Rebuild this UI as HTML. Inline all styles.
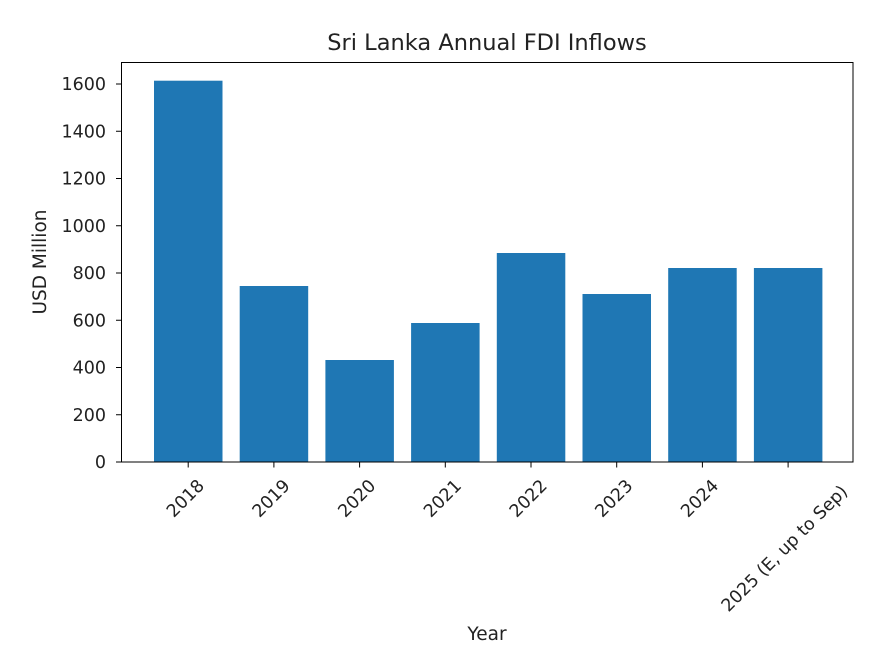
<!DOCTYPE html>
<html><head><meta charset="utf-8"><style>body{margin:0;background:#fff}</style></head><body>
<svg width="886" height="654" xmlns="http://www.w3.org/2000/svg" font-family="DejaVu Sans, Liberation Sans, sans-serif">
<rect width="886" height="654" fill="#fff"/>
<g fill="#1f77b4">
<rect x="154" y="80.7" width="68.5" height="381.3"/>
<rect x="239.7" y="286" width="68.5" height="176"/>
<rect x="325.4" y="360" width="68.5" height="102"/>
<rect x="411.1" y="323" width="68.5" height="139"/>
<rect x="496.8" y="253" width="68.5" height="209"/>
<rect x="582.5" y="294" width="68.5" height="168"/>
<rect x="668.2" y="268" width="68.5" height="194"/>
<rect x="753.9" y="268" width="68.5" height="194"/>
</g>
<rect x="121.5" y="62.5" width="731.5" height="399.5" fill="none" stroke="#000" stroke-width="1"/>
<g stroke="#000">
<line x1="116" x2="121.5" y1="462" y2="462"/>
<line x1="116" x2="121.5" y1="414.75" y2="414.75"/>
<line x1="116" x2="121.5" y1="367.5" y2="367.5"/>
<line x1="116" x2="121.5" y1="320.25" y2="320.25"/>
<line x1="116" x2="121.5" y1="273" y2="273"/>
<line x1="116" x2="121.5" y1="225.75" y2="225.75"/>
<line x1="116" x2="121.5" y1="178.5" y2="178.5"/>
<line x1="116" x2="121.5" y1="131.25" y2="131.25"/>
<line x1="116" x2="121.5" y1="84" y2="84"/>
</g>
<g font-size="17.5" text-anchor="end" fill="#222">
<text x="106" y="468">0</text>
<text x="106" y="420.75">200</text>
<text x="106" y="373.5">400</text>
<text x="106" y="326.25">600</text>
<text x="106" y="279">800</text>
<text x="106" y="231.75">1000</text>
<text x="106" y="184.5">1200</text>
<text x="106" y="137.25">1400</text>
<text x="106" y="90">1600</text>
</g>
<g stroke="#000">
<line x1="188.2" x2="188.2" y1="462" y2="467.5"/>
<line x1="273.9" x2="273.9" y1="462" y2="467.5"/>
<line x1="359.6" x2="359.6" y1="462" y2="467.5"/>
<line x1="445.3" x2="445.3" y1="462" y2="467.5"/>
<line x1="531" x2="531" y1="462" y2="467.5"/>
<line x1="616.7" x2="616.7" y1="462" y2="467.5"/>
<line x1="702.4" x2="702.4" y1="462" y2="467.5"/>
<line x1="788.1" x2="788.1" y1="462" y2="467.5"/>
</g>
<g font-size="17.5" text-anchor="middle" dominant-baseline="central" fill="#222">
<text transform="translate(186,499) rotate(-45)">2018</text>
<text transform="translate(271.7,499) rotate(-45)">2019</text>
<text transform="translate(357.4,499) rotate(-45)">2020</text>
<text transform="translate(443.1,499) rotate(-45)">2021</text>
<text transform="translate(528.8,499) rotate(-45)">2022</text>
<text transform="translate(614.5,499) rotate(-45)">2023</text>
<text transform="translate(700.2,499) rotate(-45)">2024</text>
<text transform="translate(785,549) rotate(-45)">2025 (E, up to Sep)</text>
</g>
<text x="487" y="640" font-size="18.5" text-anchor="middle" fill="#222">Year</text>
<text transform="translate(46,262) rotate(-90)" font-size="18.5" text-anchor="middle" fill="#222">USD Million</text>
<text x="487" y="50" font-size="22.5" text-anchor="middle" fill="#222">Sri Lanka Annual FDI Inflows</text>
</svg>
</body></html>
